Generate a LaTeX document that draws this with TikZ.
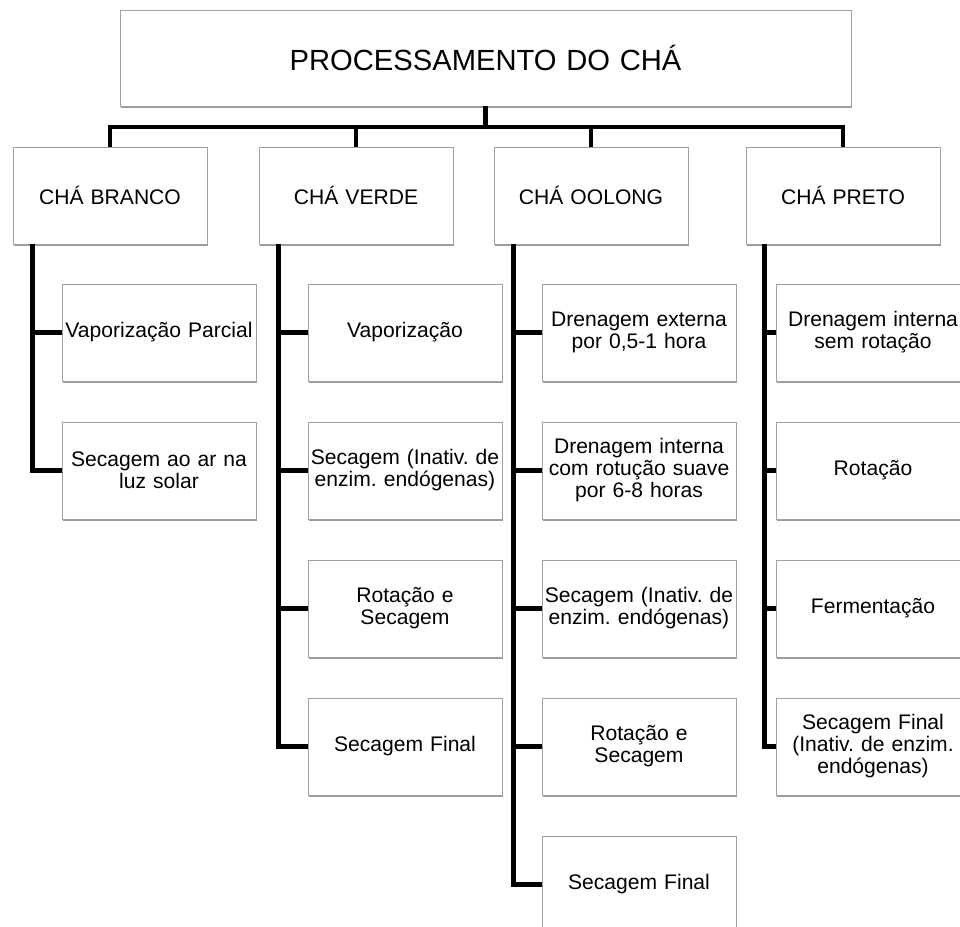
\documentclass[tikz,border=0pt]{standalone}
\usepackage{fontspec}
\setmainfont{Liberation Sans}
\usepackage{tikz}
\usetikzlibrary{shadows, positioning}
\definecolor{boxgray}{RGB}{160, 160, 160}
\frenchspacing

\begin{document}
\begin{tikzpicture}[
    every node/.style = {align=center},
    box/.style = {
        rectangle, draw=boxgray, line width=0.5pt, fill=white,
        inner sep=0pt,
        minimum width=3.88cm, minimum height=1.94cm,
        text width=3.88cm, text centered,
        font=\fontsize{12}{12.5}\selectfont,
        drop shadow={shadow xshift=0.8pt, shadow yshift=-1.3pt,
                     opacity=0.4, fill=black}
    },
    title/.style = {box, minimum width=14.62cm, minimum height=1.92cm,
                    text width=14.62cm, font=\fontsize{16.6}{20}\selectfont},
    link/.style  = {line width=2.8pt, black, line join=miter},
]

% --- Area gambar (dipotong seperti aslinya) ---
\useasboundingbox (0,0) rectangle (19.2,-18.54);
\clip (0,0) rectangle (19.2,-18.54);

% --- Judul ---
\node[title] (root) at (9.71,-1.16) {PROCESSAMENTO DO CHÁ};

% --- Jenis teh ---
\node[box] (branco) at ( 2.20,-3.91) {CHÁ BRANCO};
\node[box] (verde)  at ( 7.12,-3.91) {CHÁ VERDE};
\node[box] (oolong) at (11.82,-3.91) {CHÁ OOLONG};
\node[box] (preto)  at (16.86,-3.91) {CHÁ PRETO};

% --- Tahapan: chá branco ---
\node[box] (b1) at (3.18, -6.65) {Vaporização Parcial};
\node[box] (b2) at (3.18, -9.41) {Secagem ao ar na\\ luz solar};

% --- Tahapan: chá verde ---
\node[box] (v1) at (8.10, -6.65) {Vaporização};
\node[box] (v2) at (8.10, -9.41) {Secagem (Inativ. de\\ enzim. endógenas)};
\node[box] (v3) at (8.10,-12.17) {Rotação e\\ Secagem};
\node[box] (v4) at (8.10,-14.93) {Secagem Final};

% --- Tahapan: chá oolong ---
\node[box] (o1) at (12.78, -6.65) {Drenagem externa\\ por 0,5-1 hora};
\node[box] (o2) at (12.78, -9.41) {Drenagem interna\\ com rotução suave\\ por 6-8 horas};
\node[box] (o3) at (12.78,-12.17) {Secagem (Inativ. de\\ enzim. endógenas)};
\node[box] (o4) at (12.78,-14.93) {Rotação e\\ Secagem};
\node[box] (o5) at (12.78,-17.69) {Secagem Final};

% --- Tahapan: chá preto ---
\node[box] (p1) at (17.46, -6.65) {Drenagem interna\\ sem rotação};
\node[box] (p2) at (17.46, -9.41) {Rotação};
\node[box] (p3) at (17.46,-12.17) {Fermentação};
\node[box] (p4) at (17.46,-14.93) {Secagem Final\\ (Inativ. de enzim.\\ endógenas)};

% --- Garis utama dari judul ---
\coordinate (bus) at (0,-2.54);
\draw[link] (root.south) -- (root.south |- bus);
\draw[link] (branco.north) -- (branco.north |- bus)
    -- (preto.north |- bus) -- (preto.north);
\draw[link] (verde.north)  -- (verde.north |- bus);
\draw[link] (oolong.north) -- (oolong.north |- bus);

% --- Tulang cabang tiap jenis teh ---
\coordinate (sb) at ([xshift=4mm]branco.south west);
\coordinate (sv) at ([xshift=4mm]verde.south west);
\coordinate (so) at ([xshift=4mm]oolong.south west);
\coordinate (sp) at ([xshift=3.8mm]preto.south west);

\draw[link] (sb) |- (b2.west);
\draw[link] (sv) |- (v4.west);
\draw[link] (so) |- (o5.west);
\draw[link] (sp) |- (p4.west);

\foreach \c in {b1}       \draw[link] (sb |- \c.west) -- (\c.west);
\foreach \c in {v1,v2,v3} \draw[link] (sv |- \c.west) -- (\c.west);
\foreach \c in {o1,o2,o3,o4} \draw[link] (so |- \c.west) -- (\c.west);
\foreach \c in {p1,p2,p3} \draw[link] (sp |- \c.west) -- (\c.west);

\end{tikzpicture}
\end{document}
